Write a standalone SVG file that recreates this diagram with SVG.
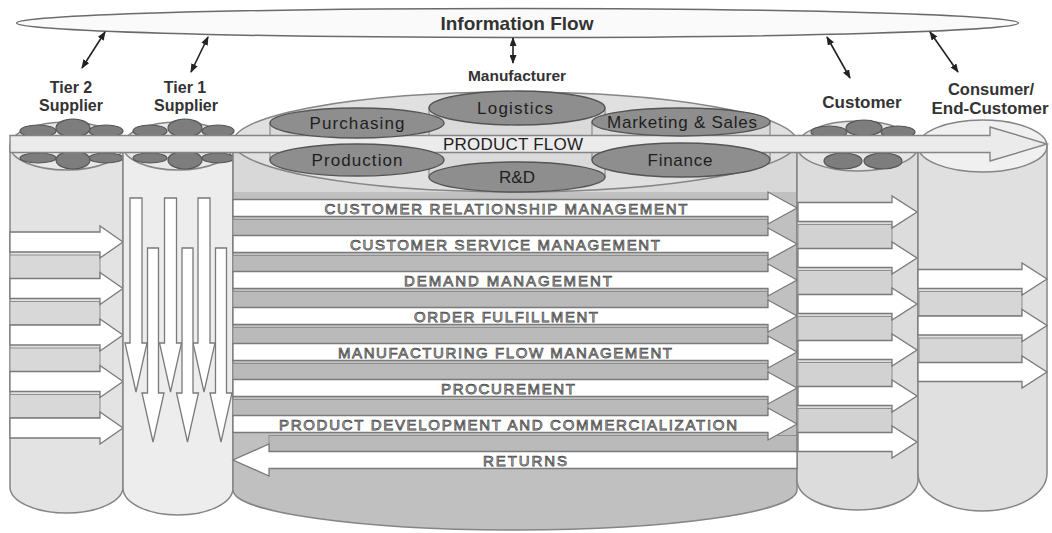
<svg xmlns="http://www.w3.org/2000/svg" width="1052" height="533" viewBox="0 0 1052 533">
  <defs>
    <marker id="tip" markerUnits="userSpaceOnUse" markerWidth="9" markerHeight="7" refX="8" refY="3.5" orient="auto-start-reverse">
      <path d="M0,0 L9,3.5 L0,7 z" fill="#222"/>
    </marker>
  </defs>
  <style>
    .lbl { font-family: "Liberation Sans", Arial, sans-serif; font-weight: bold; fill: #333; text-anchor: middle; }
    .fn { font-family: "Liberation Sans", Arial, sans-serif; font-size: 17px; fill: #1e1e1e; text-anchor: middle; }
    .proc { font-family: "Liberation Sans", Arial, sans-serif; font-size: 15px; fill: #d2d2d2; stroke: #444; stroke-width: 0.75; text-anchor: middle; }
    .cyl { stroke: #858585; stroke-width: 1.5; }
    .pod { fill: #7d7d7d; stroke: #555; stroke-width: 1.2; }
    .func { fill: #8e8e8e; stroke: #555; stroke-width: 1.4; }
    .link { fill: #dadada; stroke: #7a7a7a; stroke-width: 1; }
    .arw { fill: #fff; stroke: #7a7a7a; stroke-width: 1.3; }
    .band { stroke: #8f8f8f; stroke-width: 1; }
    .conn { stroke: #222; stroke-width: 1.6; fill: none; marker-start: url(#tip); marker-end: url(#tip); }
  </style>

  <rect width="1052" height="533" fill="#fff"/>

  <!-- information flow bar -->
  <g id="information-flow">
    <ellipse cx="517.5" cy="23" rx="501" ry="14.5" fill="#fafafa" stroke="#6a6a6a" stroke-width="1.5"/>
    <text class="lbl" x="517" y="30" font-size="19">Information Flow</text>
  </g>

  <!-- links from each party to the information flow -->
  <g id="connectors">
    <line class="conn" x1="105" y1="32" x2="82" y2="68"/>
    <line class="conn" x1="208" y1="37" x2="191" y2="72"/>
    <line class="conn" x1="513" y1="38" x2="513" y2="63"/>
    <line class="conn" x1="827" y1="37" x2="850" y2="78"/>
    <line class="conn" x1="930" y1="32" x2="958" y2="72"/>
  </g>

  <!-- Tier 2 supplier -->
  <g id="tier2">
    <text class="lbl" x="71" y="93" font-size="16">Tier 2</text>
    <text class="lbl" x="71" y="111" font-size="16">Supplier</text>
    <path class="cyl" d="M10,146 L10,487 A56.5,26 0 0 0 123,487 L123,146 Z" fill="#e3e3e3"/>
    <ellipse class="cyl" cx="66.5" cy="146" rx="56.5" ry="24" fill="#e8e8e8"/>
    <ellipse class="pod" cx="38" cy="131" rx="18" ry="6"/>
    <ellipse class="pod" cx="106" cy="131" rx="17" ry="6"/>
    <ellipse class="pod" cx="73" cy="128" rx="17" ry="9"/>
    <ellipse class="pod" cx="38" cy="158" rx="18" ry="5"/>
    <ellipse class="pod" cx="106" cy="158" rx="17" ry="5"/>
    <ellipse class="pod" cx="73" cy="160" rx="17" ry="9"/>
    <rect class="band" x="10" y="255" width="90" height="23.5" fill="#d8d8d8"/>
    <rect class="band" x="10" y="301.5" width="90" height="23.5" fill="#d8d8d8"/>
    <rect class="band" x="10" y="348" width="90" height="23.5" fill="#d8d8d8"/>
    <rect class="band" x="10" y="394.5" width="90" height="23.5" fill="#d8d8d8"/>
    <polygon class="arw" points="10,232 100,232 100,226 123,242 100,258 100,252 10,252"/>
    <polygon class="arw" points="10,278.5 100,278.5 100,272.5 123,288.5 100,304.5 100,298.5 10,298.5"/>
    <polygon class="arw" points="10,325 100,325 100,319 123,335 100,351 100,345 10,345"/>
    <polygon class="arw" points="10,371.5 100,371.5 100,365.5 123,381.5 100,397.5 100,391.5 10,391.5"/>
    <polygon class="arw" points="10,418 100,418 100,412 123,428 100,444 100,438 10,438"/>
  </g>

  <!-- Tier 1 supplier -->
  <g id="tier1">
    <text class="lbl" x="185" y="93" font-size="16">Tier 1</text>
    <text class="lbl" x="186" y="111" font-size="16">Supplier</text>
    <path class="cyl" d="M123,146 L123,488 A55,27 0 0 0 233,488 L233,146 Z" fill="#ededed"/>
    <ellipse class="cyl" cx="178" cy="146" rx="55" ry="24" fill="#e8e8e8"/>
    <ellipse class="pod" cx="150" cy="131" rx="17" ry="6"/>
    <ellipse class="pod" cx="218" cy="131" rx="16" ry="6"/>
    <ellipse class="pod" cx="185" cy="128" rx="17" ry="9"/>
    <ellipse class="pod" cx="150" cy="158" rx="17" ry="5"/>
    <ellipse class="pod" cx="218" cy="158" rx="16" ry="5"/>
    <ellipse class="pod" cx="185" cy="160" rx="17" ry="9"/>
    <polygon class="arw" points="130,198 142,198 142,343 147,343 136,392 125,343 130,343"/>
    <polygon class="arw" points="164.5,198 176.5,198 176.5,343 181.5,343 170.5,392 159.5,343 164.5,343"/>
    <polygon class="arw" points="198,198 210,198 210,343 215,343 204,392 193,343 198,343"/>
    <polygon class="arw" points="147.5,248 158.5,248 158.5,393 164,393 153,442 142,393 147.5,393"/>
    <polygon class="arw" points="182,248 193,248 193,393 198.5,393 187.5,442 176.5,393 182,393"/>
    <polygon class="arw" points="215.5,248 226.5,248 226.5,393 232,393 221,442 210,393 215.5,393"/>
  </g>

  <!-- Manufacturer -->
  <g id="manufacturer">
    <text class="lbl" x="517" y="81" font-size="15.5">Manufacturer</text>
    <path class="cyl" d="M233,142 L233,490 A282,40 0 0 0 797,490 L797,142 Z" fill="#c0c0c0"/>
    <rect x="234" y="142" width="562" height="50" fill="#d8d8d8"/>
    <ellipse class="cyl" cx="515" cy="142" rx="282" ry="50" fill="#e0e0e0"/>
    <rect class="link" x="270" y="123" width="174" height="37"/>
    <rect class="link" x="429" y="108" width="176" height="69"/>
    <rect class="link" x="592" y="122" width="178" height="38"/>
    <rect class="band" x="233" y="219.5" width="535" height="16" fill="#bababa"/>
    <rect class="band" x="233" y="255.5" width="535" height="16" fill="#bababa"/>
    <rect class="band" x="233" y="291.5" width="535" height="16" fill="#bababa"/>
    <rect class="band" x="233" y="327.5" width="535" height="16" fill="#bababa"/>
    <rect class="band" x="233" y="363.5" width="535" height="16" fill="#bababa"/>
    <rect class="band" x="233" y="399.5" width="535" height="16" fill="#bababa"/>
    <rect class="band" x="269" y="435.5" width="528" height="16" fill="#bababa"/>
  </g>

  <!-- Customer -->
  <g id="customer">
    <text class="lbl" x="862" y="108" font-size="17">Customer</text>
    <path class="cyl" d="M797,146 L797,480 A60.5,30 0 0 0 918,480 L918,146 Z" fill="#dcdcdc"/>
    <ellipse class="cyl" cx="857.5" cy="146" rx="60.5" ry="25" fill="#e6e6e6"/>
    <ellipse class="pod" cx="829" cy="132" rx="18" ry="6"/>
    <ellipse class="pod" cx="898" cy="132" rx="17" ry="6"/>
    <ellipse class="pod" cx="864" cy="128" rx="18" ry="8"/>
    <ellipse class="pod" cx="843" cy="161" rx="19" ry="8"/>
    <ellipse class="pod" cx="883" cy="161" rx="19" ry="8"/>
    <rect class="band" x="798" y="224.5" width="94" height="24" fill="#d2d2d2"/>
    <rect class="band" x="798" y="270.5" width="94" height="24" fill="#d2d2d2"/>
    <rect class="band" x="798" y="316.5" width="94" height="24" fill="#d2d2d2"/>
    <rect class="band" x="798" y="362.5" width="94" height="24" fill="#d2d2d2"/>
    <rect class="band" x="798" y="408.5" width="94" height="24" fill="#d2d2d2"/>
    <polygon class="arw" points="798,202.5 892,202.5 892,196 917,212 892,228 892,221.5 798,221.5"/>
    <polygon class="arw" points="798,248.5 892,248.5 892,242 917,258 892,274 892,267.5 798,267.5"/>
    <polygon class="arw" points="798,294.5 892,294.5 892,288 917,304 892,320 892,313.5 798,313.5"/>
    <polygon class="arw" points="798,340.5 892,340.5 892,334 917,350 892,366 892,359.5 798,359.5"/>
    <polygon class="arw" points="798,386.5 892,386.5 892,380 917,396 892,412 892,405.5 798,405.5"/>
    <polygon class="arw" points="798,432.5 892,432.5 892,426 917,442 892,458 892,451.5 798,451.5"/>
  </g>

  <!-- Consumer / end-customer -->
  <g id="consumer">
    <text class="lbl" x="991" y="95" font-size="16.5">Consumer/</text>
    <text class="lbl" x="990" y="114" font-size="16.5" textLength="117" lengthAdjust="spacingAndGlyphs">End-Customer</text>
    <path class="cyl" d="M918,146 L918,473 A64.5,38 0 0 0 1047,473 L1047,146 Z" fill="#e0e0e0"/>
    <ellipse class="cyl" cx="982.5" cy="146" rx="64.5" ry="26" fill="#f0f0f0"/>
    <rect class="band" x="919" y="291.5" width="103" height="24.5" fill="#d6d6d6"/>
    <rect class="band" x="919" y="338" width="103" height="24.5" fill="#d6d6d6"/>
    <polygon class="arw" points="918,269.5 1022,269.5 1022,263 1047,279 1022,295 1022,288.5 918,288.5"/>
    <polygon class="arw" points="918,316 1022,316 1022,309.5 1047,325.5 1022,341.5 1022,335 918,335"/>
    <polygon class="arw" points="918,362.5 1022,362.5 1022,356 1047,372 1022,388 1022,381.5 918,381.5"/>
  </g>

  <!-- product flow running through the whole chain -->
  <g id="product-flow">
    <polygon points="10,135.5 990,135.5 990,127 1047,144 990,161 990,152.5 10,152.5" fill="#ebebeb" stroke="#858585" stroke-width="1.4"/>
    <text class="fn" x="513" y="150" font-size="15" textLength="140" lengthAdjust="spacing">PRODUCT FLOW</text>
  </g>

  <!-- manufacturer business functions -->
  <g id="functions">
    <g id="fn-logistics">
      <ellipse class="func" cx="517" cy="108" rx="88" ry="17"/>
      <text class="fn" x="515" y="114" textLength="76" lengthAdjust="spacing">Logistics</text>
    </g>
    <g id="fn-rnd">
      <ellipse class="func" cx="517" cy="177" rx="88" ry="15"/>
      <text class="fn" x="517" y="183">R&amp;D</text>
    </g>
    <g id="fn-purchasing">
      <ellipse class="func" cx="357" cy="123" rx="87" ry="15"/>
      <text class="fn" x="357" y="129" textLength="95" lengthAdjust="spacing">Purchasing</text>
    </g>
    <g id="fn-production">
      <ellipse class="func" cx="357" cy="160" rx="87" ry="16"/>
      <text class="fn" x="357" y="166" textLength="91" lengthAdjust="spacing">Production</text>
    </g>
    <g id="fn-marketing">
      <ellipse class="func" cx="681" cy="122" rx="89" ry="14"/>
      <text class="fn" x="682" y="128" textLength="150" lengthAdjust="spacing">Marketing &amp; Sales</text>
    </g>
    <g id="fn-finance">
      <ellipse class="func" cx="681" cy="160" rx="89" ry="17"/>
      <text class="fn" x="680" y="166" textLength="65" lengthAdjust="spacing">Finance</text>
    </g>
  </g>

  <!-- supply chain business processes -->
  <g id="processes">
    <polygon class="arw" points="233,199.5 768,199.5 768,192 797,208 768,224 768,216.5 233,216.5"/>
    <text class="proc" x="506" y="213.5" textLength="363" lengthAdjust="spacing">CUSTOMER RELATIONSHIP MANAGEMENT</text>
    <polygon class="arw" points="233,235.5 768,235.5 768,228 797,244 768,260 768,252.5 233,252.5"/>
    <text class="proc" x="505" y="249.5" textLength="310" lengthAdjust="spacing">CUSTOMER SERVICE MANAGEMENT</text>
    <polygon class="arw" points="233,271.5 768,271.5 768,264 797,280 768,296 768,288.5 233,288.5"/>
    <text class="proc" x="508" y="285.5" textLength="208" lengthAdjust="spacing">DEMAND MANAGEMENT</text>
    <polygon class="arw" points="233,307.5 768,307.5 768,300 797,316 768,332 768,324.5 233,324.5"/>
    <text class="proc" x="506" y="321.5" textLength="184" lengthAdjust="spacing">ORDER FULFILLMENT</text>
    <polygon class="arw" points="233,343.5 768,343.5 768,336 797,352 768,368 768,360.5 233,360.5"/>
    <text class="proc" x="505" y="357.5" textLength="334" lengthAdjust="spacing">MANUFACTURING FLOW MANAGEMENT</text>
    <polygon class="arw" points="233,379.5 768,379.5 768,372 797,388 768,404 768,396.5 233,396.5"/>
    <text class="proc" x="508" y="393.5" textLength="134" lengthAdjust="spacing">PROCUREMENT</text>
    <polygon class="arw" points="233,415.5 768,415.5 768,408 797,424 768,440 768,432.5 233,432.5"/>
    <text class="proc" x="508" y="429.5" textLength="458" lengthAdjust="spacing">PRODUCT DEVELOPMENT AND COMMERCIALIZATION</text>
    <polygon class="arw" points="797,451.5 269,451.5 269,444 233,460 269,476 269,468.5 797,468.5"/>
    <text class="proc" x="525" y="465.5" textLength="84" lengthAdjust="spacing">RETURNS</text>
  </g>
</svg>
